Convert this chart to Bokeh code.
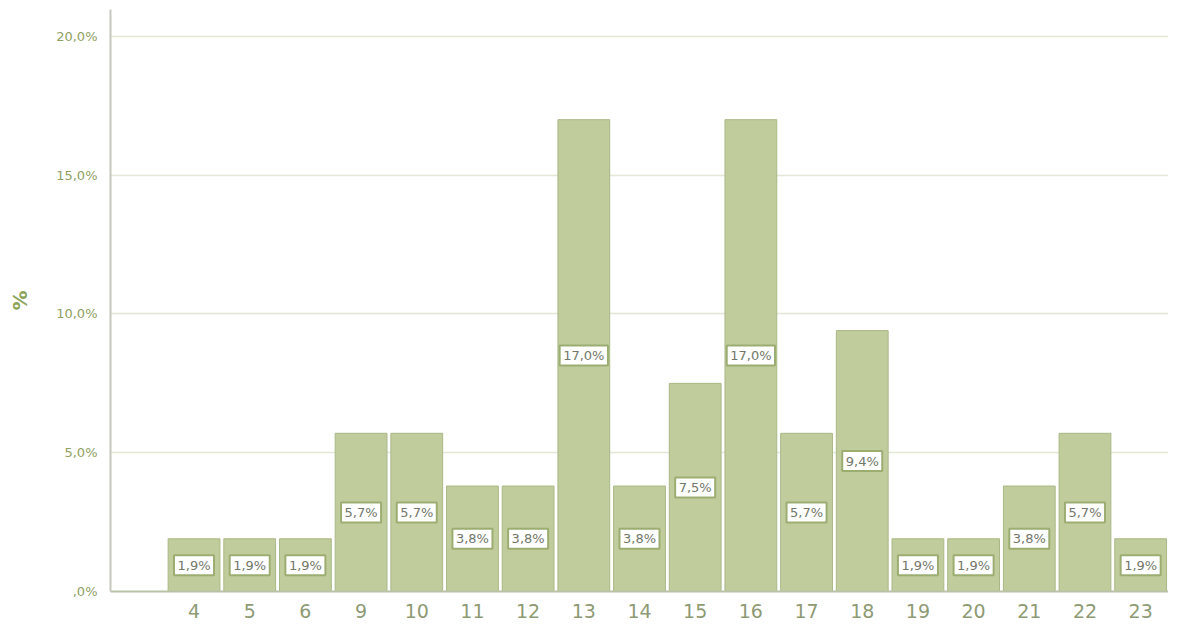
from bokeh.plotting import figure
from bokeh.models import ColumnDataSource, FixedTicker
from bokeh.core.properties import value
from bokeh.embed import file_html
from bokeh.resources import INLINE

categories = ["4", "5", "6", "9", "10", "11", "12", "13", "14", "15", "16", "17", "18", "19", "20", "21", "22", "23"]
percent = [1.9, 1.9, 1.9, 5.7, 5.7, 3.8, 3.8, 17.0, 3.8, 7.5, 17.0, 5.7, 9.4, 1.9, 1.9, 3.8, 5.7, 1.9]
y_ticks = [0, 5, 10, 15, 20]
y_tick_labels = [",0%", "5,0%", "10,0%", "15,0%", "20,0%"]

xs = list(range(1, len(categories) + 1))
lab = [("%.1f" % v).replace(".", ",") + "%" for v in percent]


def text_w(s, size=13):
    w = 0.0
    for ch in s:
        if ch.isdigit():
            w += 0.636
        elif ch == ",":
            w += 0.318
        elif ch == "%":
            w += 0.95
        else:
            w += 0.6
    return w * size


src = ColumnDataSource(dict(
    x=xs,
    top=percent,
    mid=[v / 2 for v in percent],
    lab=lab,
    bw=[text_w(s) + 7 for s in lab],
))

p = figure(frame_width=1058, frame_height=582, x_range=(-0.5, 18.5), y_range=(0, 20.97),
           output_backend="svg", toolbar_location=None,
           min_border_left=110, min_border_top=9, min_border_right=0, min_border_bottom=28)
p.outline_line_color = None
p.background_fill_color = "white"

p.vbar(x="x", top="top", width=0.93, source=src, fill_color="#c0cc9c", line_color="#a9b887", line_width=1)

p.rect(x="x", y="mid", width="bw", height=20, width_units="screen", height_units="screen", source=src,
       fill_color="white", line_color="#9cad72", line_width=2)
p.text(x="x", y="mid", text="lab", source=src, text_align="center", text_baseline="middle",
       text_font=value("DejaVu Sans"), text_font_size="13px", text_color="#737769")

p.xaxis.ticker = FixedTicker(ticks=xs)
p.xaxis.major_label_overrides = {x: c for x, c in zip(xs, categories)}
p.xaxis.major_label_text_font = "DejaVu Sans"
p.xaxis.major_label_text_font_size = "19px"
p.xaxis.major_label_text_color = "#8e9a74"
p.xaxis.major_tick_line_color = None
p.xaxis.minor_tick_line_color = None
p.xaxis.axis_line_color = "#b9c2a6"
p.xaxis.axis_line_width = 2
p.xaxis.major_label_standoff = 6
p.xgrid.grid_line_color = None

p.yaxis.ticker = FixedTicker(ticks=y_ticks)
p.yaxis.major_label_overrides = {t: l for t, l in zip(y_ticks, y_tick_labels)}
p.yaxis.major_label_text_font = "DejaVu Sans"
p.yaxis.major_label_text_font_size = "13px"
p.yaxis.major_label_text_color = "#8fa064"
p.yaxis.major_tick_line_color = None
p.yaxis.minor_tick_line_color = None
p.yaxis.axis_line_color = "#c6c8bf"
p.yaxis.axis_line_width = 2
p.yaxis.major_label_standoff = 7
p.yaxis.axis_label = "%"
p.yaxis.axis_label_text_font = "DejaVu Sans"
p.yaxis.axis_label_text_font_size = "20px"
p.yaxis.axis_label_text_font_style = "bold"
p.yaxis.axis_label_text_color = "#8ea45a"
p.yaxis.axis_label_standoff = 21
p.ygrid.grid_line_color = "#e3e7d6"
p.ygrid.grid_line_width = 1.5

open("out.html", "w").write(file_html(p, INLINE))
